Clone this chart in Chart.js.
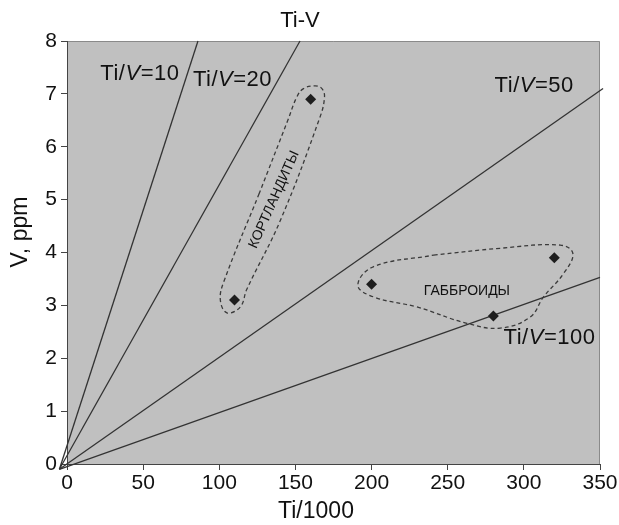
<!DOCTYPE html>
<html>
<head>
<meta charset="utf-8">
<script src="https://cdn.jsdelivr.net/npm/chart.js@4.4.0/dist/chart.umd.min.js"></script>
<style>
  html, body { margin: 0; padding: 0; background: #fff; }
</style>
</head>
<body>
<canvas id="chart" width="619" height="525"></canvas>
<script>
// reference lines Ti/V = const (end points, they meet a bit left of 0)
const line10 = [{x: -5, y: -0.1}, {x: 86, y: 8}];
const line20 = [{x: -5, y: -0.1}, {x: 153, y: 8}];
const line50 = [{x: -5, y: -0.1}, {x: 352, y: 7.1}];
const line100 = [{x: -5, y: -0.1}, {x: 350, y: 3.53}];

// samples
const sampleTi = [160, 110, 200, 280, 320];
const sampleV = [6.9, 3.1, 3.4, 2.8, 3.9];

// dashed field outlines
const kortlandit = [
    {x: 126, y: 5.1}, {x: 145, y: 6.5}, {x: 150.9, y: 6.94}, {x: 155.3, y: 7.1}, {x: 163, y: 7.15},
    {x: 167.4, y: 7.1}, {x: 169.1, y: 6.94}, {x: 166, y: 6.55}, {x: 140, y: 4.6}, {x: 118, y: 3.3},
    {x: 113.8, y: 2.97}, {x: 105, y: 2.86}, {x: 100.7, y: 3.1}, {x: 103, y: 3.45}, {x: 126, y: 5.1}
];
const gabbro = [
    {x: 240.7, y: 3.95}, {x: 284.5, y: 4.08}, {x: 323.9, y: 4.14}, {x: 332.2, y: 3.98}, {x: 326, y: 3.6},
    {x: 312.9, y: 3.16}, {x: 304.2, y: 2.78}, {x: 284.5, y: 2.57}, {x: 262.6, y: 2.66}, {x: 229.8, y: 2.97},
    {x: 201.3, y: 3.16}, {x: 191, y: 3.38}, {x: 201.1, y: 3.73}, {x: 240.7, y: 3.95}
];

const ratios = ['10', '20', '50', '100'];
const xTicks = [0, 50, 100, 150, 200, 250, 300, 350];
const yTicks = [0, 1, 2, 3, 4, 5, 6, 7, 8];

const FONT = "'Liberation Sans', Arial, sans-serif";

function refLine(data) {
    return {
        type: 'line', data: data, borderColor: '#333', borderWidth: 1.3,
        pointRadius: 0, tension: 0, fill: false, clip: false, order: 3
    };
}

function fieldLine(data) {
    return {
        type: 'line', data: data, borderColor: '#3a3a3a', borderWidth: 1.3,
        borderDash: [4, 3], pointRadius: 0, tension: 0.4, fill: false, order: 2
    };
}

// gray plot background + light top/right frame
const bgPlugin = {
    id: 'bg',
    beforeDraw(chart) {
        const {ctx, chartArea: a} = chart;
        ctx.save();
        ctx.fillStyle = '#fff';
        ctx.fillRect(0, 0, chart.width, chart.height);
        ctx.fillStyle = '#c0c0c0';
        ctx.fillRect(a.left, a.top, a.right - a.left, a.bottom - a.top);
        ctx.strokeStyle = '#8a8a8a';
        ctx.lineWidth = 1;
        ctx.beginPath();
        ctx.moveTo(a.left, a.top + 0.5);
        ctx.lineTo(a.right - 0.5, a.top + 0.5);
        ctx.lineTo(a.right - 0.5, a.bottom);
        ctx.stroke();
        ctx.restore();
    }
};

// text inside the plot and axis titles
const labelPlugin = {
    id: 'labels',
    afterDatasetsDraw(chart) {
        const {ctx, scales: {x, y}} = chart;
        const spots = [[21.9, 7.38], [82.7, 7.26], [280.8, 7.15], [286.7, 2.39]];
        ctx.save();
        ctx.fillStyle = '#111';
        ctx.textBaseline = 'middle';
        ctx.textAlign = 'left';
        ctx.letterSpacing = '0.5px';
        ratios.forEach((r, i) => {
            let px = x.getPixelForValue(spots[i][0]);
            const py = y.getPixelForValue(spots[i][1]);
            const parts = [['Ti/', 'normal'], ['V', 'italic'], ['=' + r, 'normal']];
            parts.forEach(([t, st]) => {
                ctx.font = st + ' 22px ' + FONT;
                ctx.fillText(t, px, py);
                px += ctx.measureText(t).width;
            });
        });
        ctx.letterSpacing = '0px';

        ctx.textAlign = 'center';
        ctx.font = '23px ' + FONT;
        ctx.fillText('Ti/1000', 316, 512);

        ctx.save();
        ctx.translate(21, 232);
        ctx.rotate(-Math.PI / 2);
        ctx.fillText('V, ppm', 0, 0);
        ctx.restore();

        ctx.font = '14px ' + FONT;
        ctx.fillText('ГАББРОИДЫ', x.getPixelForValue(262.6), y.getPixelForValue(3.26));

        ctx.translate(x.getPixelForValue(136), y.getPixelForValue(5.0));
        ctx.rotate(-66 * Math.PI / 180);
        ctx.fillText('КОРТЛАНДИТЫ', 0, 0);
        ctx.restore();
    }
};

new Chart(document.getElementById('chart'), {
    type: 'scatter',
    data: {
        datasets: [
            refLine(line10), refLine(line20), refLine(line50), refLine(line100),
            fieldLine(kortlandit), fieldLine(gabbro),
            {
                type: 'scatter',
                data: sampleTi.map((t, i) => ({x: t, y: sampleV[i]})),
                pointStyle: 'rectRot', pointRadius: 5.5,
                backgroundColor: '#1e1e1e', borderColor: '#1e1e1e', borderWidth: 0,
                order: 1
            }
        ]
    },
    options: {
        responsive: false,
        animation: false,
        layout: { padding: { top: 0, right: 19, bottom: 0, left: 0 } },
        plugins: {
            legend: { display: false },
            tooltip: { enabled: false },
            title: {
                display: true, text: 'Ti-V', color: '#111',
                font: { family: FONT, size: 22, weight: 'normal' },
                padding: { top: 8, bottom: 6.6 }
            }
        },
        scales: {
            x: {
                type: 'linear', min: 0, max: 350,
                afterBuildTicks: s => { s.ticks = xTicks.map(v => ({value: v})); },
                afterFit: s => { s.height = 61; },
                ticks: {
                    color: '#111', font: { family: FONT, size: 21 }, padding: 1,
                    maxRotation: 0, autoSkip: false
                },
                grid: { drawOnChartArea: false, drawTicks: true, tickLength: 6, color: '#444' },
                border: { color: '#444', width: 1 }
            },
            y: {
                type: 'linear', min: 0, max: 8,
                afterBuildTicks: s => { s.ticks = yTicks.map(v => ({value: v})); },
                afterFit: s => { s.width = 67; },
                ticks: { color: '#111', font: { family: FONT, size: 21 }, padding: 4, autoSkip: false },
                grid: { drawOnChartArea: false, drawTicks: true, tickLength: 6, color: '#444' },
                border: { color: '#444', width: 1 }
            }
        }
    },
    plugins: [bgPlugin, labelPlugin]
});
</script>
</body>
</html>
